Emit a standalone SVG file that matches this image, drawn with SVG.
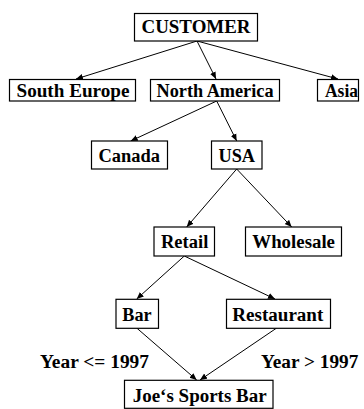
<svg xmlns="http://www.w3.org/2000/svg" width="364" height="409" viewBox="0 0 364 409">
<defs>
<style>
.box{fill:#fff;stroke:#000;stroke-width:1.2}
.t{font-family:"Liberation Serif","Times New Roman",serif;font-weight:bold;font-size:18.5px;fill:#000}
.e{fill:none;stroke:#000;stroke-width:1;marker-end:url(#ah)}
</style>
<marker id="ah" markerUnits="userSpaceOnUse" markerWidth="8" markerHeight="8" refX="7" refY="3.5" orient="auto">
<path d="M0,0.5 L7,3.5 L0,6.5 Z" fill="#000"/>
</marker>
</defs>
<rect width="364" height="409" fill="#fff"/>
<g id="connectors">
<line class="e" x1="197" y1="41" x2="76" y2="79"/>
<line class="e" x1="197" y1="41" x2="216" y2="79"/>
<line class="e" x1="197" y1="41" x2="338" y2="79"/>
<line class="e" x1="216.7" y1="101" x2="130.7" y2="141"/>
<line class="e" x1="216.7" y1="101" x2="236.7" y2="141"/>
<line class="e" x1="236.7" y1="169" x2="186.7" y2="227"/>
<line class="e" x1="236.7" y1="169" x2="291.7" y2="227"/>
<line class="e" x1="184.3" y1="256" x2="136.7" y2="299"/>
<line class="e" x1="184.3" y1="256" x2="275" y2="299"/>
<line class="e" x1="136.7" y1="328" x2="196.7" y2="380"/>
<line class="e" x1="276.7" y1="328" x2="200" y2="380"/>
</g>
<g id="customer"><rect class="box" x="134.5" y="13.5" width="123" height="27.5"/><text class="t" x="141.5" y="32.5" textLength="109" lengthAdjust="spacingAndGlyphs">CUSTOMER</text></g>
<g id="south-europe"><rect class="box" x="9.5" y="79.5" width="126" height="21.5"/><text class="t" x="16.5" y="96.5" textLength="113" lengthAdjust="spacingAndGlyphs">South Europe</text></g>
<g id="north-america"><rect class="box" x="150.5" y="79.5" width="129" height="21.5"/><text class="t" x="156.5" y="96.5" textLength="117" lengthAdjust="spacingAndGlyphs">North America</text></g>
<g id="asia"><rect class="box" x="317.5" y="79.5" width="41" height="21.5"/><text class="t" x="325" y="96.5" textLength="33" lengthAdjust="spacingAndGlyphs">Asia</text></g>
<g id="canada"><rect class="box" x="91.5" y="141" width="76" height="28"/><text class="t" x="98.5" y="161.5" textLength="61.5" lengthAdjust="spacingAndGlyphs">Canada</text></g>
<g id="usa"><rect class="box" x="211.5" y="141" width="50.5" height="28"/><text class="t" x="218.5" y="161.5" textLength="36.5" lengthAdjust="spacingAndGlyphs">USA</text></g>
<g id="retail"><rect class="box" x="154" y="227" width="60.5" height="29"/><text class="t" x="161" y="248.3" textLength="47.3" lengthAdjust="spacingAndGlyphs">Retail</text></g>
<g id="wholesale"><rect class="box" x="245.5" y="227" width="96" height="29"/><text class="t" x="252.3" y="248.3" textLength="82.7" lengthAdjust="spacingAndGlyphs">Wholesale</text></g>
<g id="bar"><rect class="box" x="116" y="299.3" width="42.5" height="29"/><text class="t" x="122.3" y="320.7" textLength="29.3" lengthAdjust="spacingAndGlyphs">Bar</text></g>
<g id="restaurant"><rect class="box" x="226.5" y="299.3" width="104" height="29"/><text class="t" x="232.3" y="320.7" textLength="91" lengthAdjust="spacingAndGlyphs">Restaurant</text></g>
<g id="joes-sports-bar"><rect class="box" x="124.5" y="380.3" width="148.5" height="28"/><text class="t" x="132.7" y="401.7" textLength="134" lengthAdjust="spacingAndGlyphs">Joe‘s Sports Bar</text></g>
<g id="labels">
<text class="t" x="40" y="368.3" textLength="109" lengthAdjust="spacingAndGlyphs">Year &lt;= 1997</text>
<text class="t" x="261" y="368.3" textLength="97.3" lengthAdjust="spacingAndGlyphs">Year &gt; 1997</text>
</g>
</svg>
